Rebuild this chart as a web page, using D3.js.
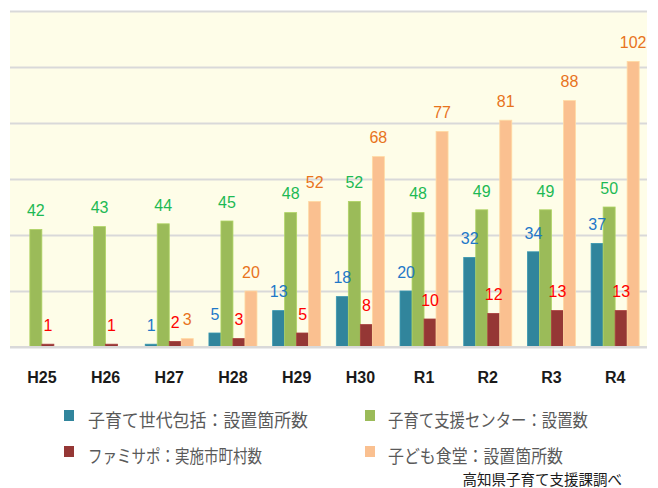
<!DOCTYPE html>
<html>
<head>
<meta charset="utf-8">
<script src="https://cdn.jsdelivr.net/npm/d3@7"></script>
<style>
  html, body { margin: 0; padding: 0; background: #ffffff; }
  svg { display: block; }
</style>
</head>
<body>
<svg id="chart" width="658" height="488"></svg>
<script>
// ---- data ----
const categories = ["H25", "H26", "H27", "H28", "H29", "H30", "R1", "R2", "R3", "R4"];
const seriesNames = ["子育て世代包括：設置箇所数", "子育て支援センター：設置数", "ファミサポ：実施市町村数", "子ども食堂：設置箇所数"];
const houkatsu = [null, null, 1, 5, 13, 18, 20, 32, 34, 37];
const shienCenter = [42, 43, 44, 45, 48, 52, 48, 49, 49, 50];
const famisapo = [1, 1, 2, 3, 5, 8, 10, 12, 13, 13];
const kodomoShokudo = [null, null, 3, 20, 52, 68, 77, 81, 88, 102];
const yTicks = [0, 20, 40, 60, 80, 100, 120];
const sourceNote = "高知県子育て支援課調べ";

const seriesValues = [houkatsu, shienCenter, famisapo, kodomoShokudo];
const barColors = ["#31859C", "#9BBB59", "#953735", "#FAC090"];
const labelColors = ["#1F78C8", "#1DB954", "#FF0000", "#E8731C"];

// ---- layout ----
const svg = d3.select("#chart");
const plot = { left: 10, right: 647, top: 11, bottom: 347 };

const x0 = d3.scaleBand()
  .domain(categories)
  .range([plot.left, plot.right])
  .paddingInner(0.246)
  .paddingOuter(0.123);

const x1 = d3.scaleBand()
  .domain(d3.range(seriesValues.length))
  .range([0, x0.bandwidth()]);

const y = d3.scaleLinear()
  .domain([0, 120])
  .range([plot.bottom, plot.top]);

// plot background
svg.append("rect")
  .attr("x", plot.left)
  .attr("y", plot.top)
  .attr("width", plot.right - plot.left)
  .attr("height", plot.bottom - plot.top)
  .attr("fill", "#FEFDE8");

// gridlines
const grid = svg.append("g")
  .attr("transform", `translate(${plot.left},0)`)
  .call(d3.axisLeft(y).tickValues(yTicks).tickSize(-(plot.right - plot.left)).tickFormat(""));
grid.select(".domain").remove();
grid.selectAll(".tick line")
  .attr("stroke", "#D9D9D9")
  .attr("stroke-width", 2);

// bars
const groups = svg.append("g")
  .selectAll("g")
  .data(categories)
  .join("g")
  .attr("transform", d => `translate(${x0(d)},0)`);

const barData = (cat, i) => seriesValues.map((vals, s) => ({ s, v: vals[i] })).filter(d => d.v != null);

groups.selectAll("rect")
  .data((cat, i) => barData(cat, i))
  .join("rect")
  .attr("x", d => x1(d.s))
  .attr("y", d => y(d.v))
  .attr("width", x1.bandwidth())
  .attr("height", d => y(0) - y(d.v))
  .attr("fill", d => barColors[d.s])
  .attr("stroke", d => d3.color(barColors[d.s]).brighter(0.35))
  .attr("stroke-width", 0.8);

groups.selectAll("text")
  .data((cat, i) => barData(cat, i))
  .join("text")
  .attr("x", d => x1(d.s) + x1.bandwidth() / 2)
  .attr("y", d => y(d.v) - 19)
  .attr("dy", "0.36em")
  .attr("text-anchor", "middle")
  .attr("font-family", "'Liberation Sans', Arial, sans-serif")
  .attr("font-size", 16)
  .attr("fill", d => labelColors[d.s])
  .text(d => d.v);

// baseline / x axis
const xAxis = svg.append("g")
  .attr("transform", `translate(0,${plot.bottom})`)
  .call(d3.axisBottom(x0).tickSize(0).tickPadding(25));
xAxis.select(".domain")
  .attr("stroke", "#D9D9D9")
  .attr("stroke-width", 2)
  .attr("d", `M${plot.left},0H${plot.right}`);
xAxis.selectAll(".tick text")
  .attr("font-family", "'Liberation Sans', Arial, sans-serif")
  .attr("font-size", 16)
  .attr("font-weight", "bold")
  .attr("fill", "#1a1a1a");

// legend
const legendPos = [
  { x: 64, y: 410, tx: 88, ty: 421, w: 220 },
  { x: 365, y: 410, tx: 388, ty: 421, w: 200 },
  { x: 64, y: 446, tx: 88, ty: 457, w: 174 },
  { x: 365, y: 446, tx: 388, ty: 457, w: 175 }
];
const legend = svg.append("g");
seriesNames.forEach((name, s) => {
  const p = legendPos[s];
  legend.append("rect")
    .attr("x", p.x).attr("y", p.y)
    .attr("width", 10).attr("height", 11)
    .attr("fill", barColors[s]);
  legend.append("text")
    .attr("x", p.tx).attr("y", p.ty)
    .attr("dy", "0.36em")
    .attr("font-family", "'Noto Sans CJK JP', sans-serif")
    .attr("font-size", 18)
    .attr("fill", "#595959")
    .attr("textLength", p.w)
    .attr("lengthAdjust", "spacingAndGlyphs")
    .text(name);
});

// source note
svg.append("text")
  .attr("x", 622)
  .attr("y", 480)
  .attr("dy", "0.36em")
  .attr("text-anchor", "end")
  .attr("font-family", "'Noto Sans CJK JP', sans-serif")
  .attr("font-size", 14.5)
  .attr("fill", "#1a1a1a")
  .text(sourceNote);
</script>
</body>
</html>
